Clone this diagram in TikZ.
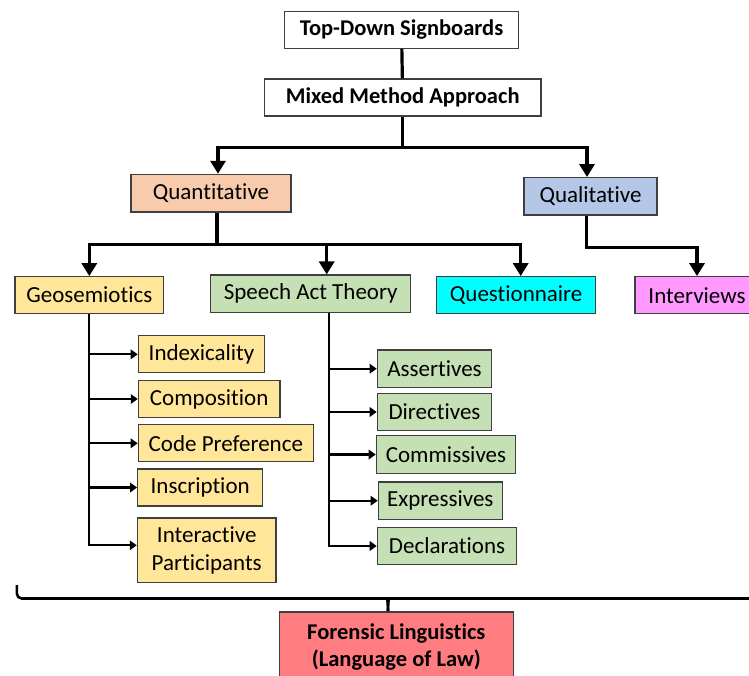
\documentclass[tikz,border=0pt]{standalone}
\usepackage{fontspec}
\setmainfont{Carlito}[Ligatures=NoCommon]
\usetikzlibrary{arrows.meta}

\definecolor{boxline}{HTML}{3F3F3F}
\definecolor{quantpeach}{HTML}{F8CBAD}
\definecolor{qualblue}{HTML}{B4C7E7}
\definecolor{geoyellow}{HTML}{FFE699}
\definecolor{actgreen}{HTML}{C5E0B4}
\definecolor{questcyan}{HTML}{00FFFF}
\definecolor{interpink}{HTML}{FF99FF}
\definecolor{lawred}{HTML}{FF7C80}

\tikzset{
  box/.style={draw=boxline,line width=1.2pt,inner sep=0pt,align=center,
    font=\fontsize{23}{28}\selectfont},
  boldbox/.style={box,font=\fontsize{22.5}{27}\selectfont\bfseries},
  link/.style={line width=3.2pt},
  mainarrow/.style={link,-{Triangle[length=13pt,width=15pt]}},
  subarrow/.style={line width=2.2pt,-{Triangle[length=7pt,width=9.5pt]}},
  bracket/.style={line width=2.6pt}
}

\begin{document}
\begin{tikzpicture}[x=1pt,y=-1pt]
        \useasboundingbox (0,0) rectangle (749,675);
        \fill[white] (0,0) rectangle (749,675);
        \clip (0,0) rectangle (749,675);

        \node[boldbox,fill=white,minimum width=234pt,minimum height=36.5pt] (top) at (401.5,30) {Top-Down Signboards};
        \node[boldbox,fill=white,minimum width=276.5pt,minimum height=37pt] (mixed) at (402.7,97.5) {Mixed Method Approach};
        \draw[link] (top) -- (mixed);

        \node[box,fill=quantpeach,minimum width=160pt,minimum height=37.7pt] (quant) at (211,193.2) {Quantitative};
        \node[box,fill=qualblue,minimum width=133pt,minimum height=37.3pt] (qual) at (590.5,196.3) {Qualitative};
        \draw[mainarrow] (mixed.south) -- ++(0,31) -| ([xshift=7pt]quant.north);
        \draw[mainarrow] (mixed.south) -- ++(0,31) -| ([xshift=-3.5pt]qual.north);

        \node[box,fill=geoyellow,minimum width=148.7pt,minimum height=36.6pt] (geo) at (89.3,295) {Geosemiotics};
        \node[box,fill=actgreen,minimum width=200pt,minimum height=37.3pt] (speech) at (310.7,293.7) {Speech Act Theory};
        \node[box,fill=questcyan,minimum width=159pt,minimum height=37pt] (quest) at (516.2,295.2) {Questionnaire};
        \node[box,fill=interpink,minimum width=124pt,minimum height=37pt] (interv) at (697,295.2) {Interviews};

        \draw[mainarrow] ([xshift=6pt]quant.south) -- ++(0,32) -| (geo.north);
        \draw[mainarrow] ([xshift=6pt]quant.south) -- ++(0,32) -| ([xshift=16pt]speech.north);
        \draw[mainarrow] ([xshift=6pt]quant.south) -- ++(0,32) -| ([xshift=4.5pt]quest.north);
        \draw[mainarrow] ([xshift=-4pt]qual.south) -- ++(0,32) -| (interv.north);

        \foreach \n/\x/\y/\w/\t in {idx/201.5/354.3/126.4/Indexicality,
            comp/209.2/399/141.7/Composition,
            code/225.8/443.3/175/Code Preference,
            insc/200.2/487.5/125/Inscription}{
            \node[box,fill=geoyellow,minimum width=\w pt,minimum height=37pt] (\n) at (\x,\y) {\t};
            \draw[subarrow] (geo.south) |- (\n.west);
        }
        \node[box,fill=geoyellow,minimum width=138.7pt,minimum height=64.7pt] (inter) at (206.7,550.3) {Interactive\\Participants};
        \draw[subarrow] (geo.south) |- ([yshift=5pt]inter.west);

        \foreach \n/\x/\y/\w/\t in {asse/434.5/368.7/114.4/Assertives,
            dire/434.5/412/114.4/Directives,
            comm/446/454.5/139.4/Commissives,
            expr/440.3/500.7/124/Expressives,
            decl/447/546/139.4/Declarations}{
            \node[box,fill=actgreen,minimum width=\w pt,minimum height=37.4pt] (\n) at (\x,\y) {\t};
            \draw[subarrow] ([xshift=18.3pt]speech.south) |- (\n.west);
        }

        \node[boldbox,fill=lawred,minimum width=234pt,minimum height=70pt] (law) at (396.3,647) {Forensic Linguistics\\(Language of Law)};
        \coordinate (bl) at (16.8,585);
        \coordinate (br) at (759.2,585);
        \coordinate (tip) at (388,611);
        \draw[bracket,rounded corners=5pt] (bl) |- (382,598.5) to[out=0,in=90] (tip);
        \draw[bracket,rounded corners=5pt] (br) |- (394,598.5) to[out=180,in=90] (tip);
    \end{tikzpicture}
\end{document}
